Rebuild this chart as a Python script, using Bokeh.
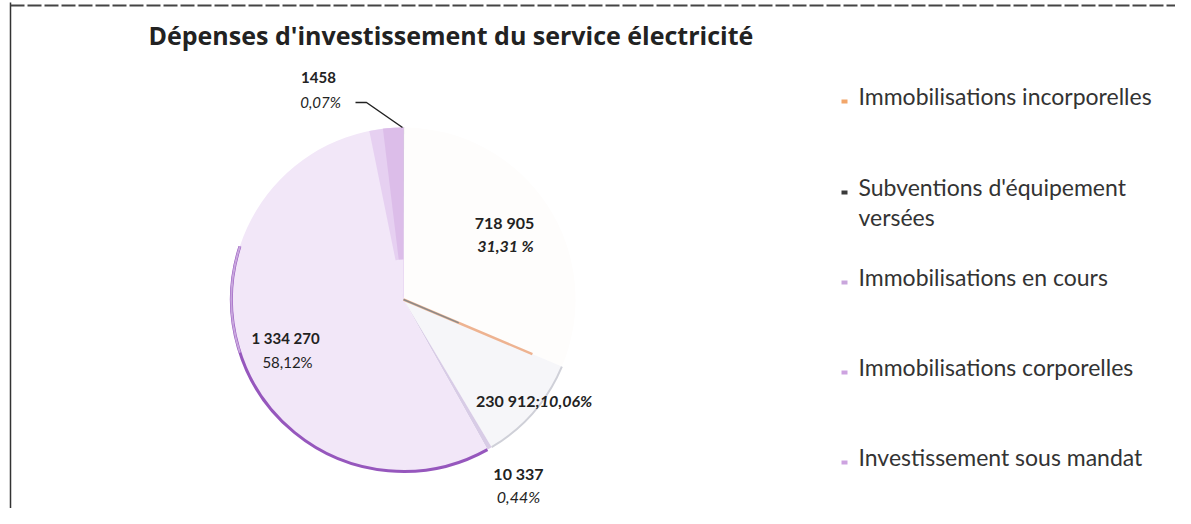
import math
from bokeh.plotting import figure
from bokeh.models import Range1d
from bokeh.core.properties import value
from bokeh.embed import file_html
from bokeh.resources import INLINE

# ---- data ----
categories = ["Immobilisations incorporelles", "Subventions d'équipement versées",
              "Immobilisations en cours", "Immobilisations corporelles",
              "Investissement sous mandat"]
values = [1458, 718905, 230912, 10337, 1334270]
value_labels = ["1458", "718 905", "230 912", "10 337", "1 334 270"]
pct_labels = ["0,07%", "31,31 %", "10,06%", "0,44%", "58,12%"]
slice_colors = ["#3a3a3a", "#fefdfc", "#f6f6f9", "#d8cce6", "#f2e7f8"]
legend_colors = ["#f2a66a", "#3a3a3a", "#c9a6dc", "#cda3e0", "#cda3e0"]

W, H = 1175, 508
FONT = "Lato"


def X(xi):
    return xi


def Y(yi):
    return H - yi


p = figure(width=W, height=H, output_backend="svg", toolbar_location=None,
           x_range=Range1d(0, W), y_range=Range1d(0, H), min_border=0)
p.axis.visible = False
p.grid.visible = False
p.outline_line_color = None
p.background_fill_color = "white"

# pie geometry
cx, cy, R = X(403), Y(299), 172
total = float(sum(values))
cum = [0.0]
for v in values:
    cum.append(cum[-1] + v / total)
starts = [math.pi / 2 - 2 * math.pi * cum[i + 1] for i in range(len(values))]
ends = [math.pi / 2 - 2 * math.pi * cum[i] for i in range(len(values))]

p.wedge(x=[cx] * len(values), y=[cy] * len(values), radius=R,
        start_angle=starts, end_angle=ends, fill_color=slice_colors,
        line_color=None)

# lilac strip along the top edge of the big slice
top = starts[4] + 2 * math.pi
p.wedge(x=cx, y=cy, radius=R, start_angle=top, end_angle=top + 0.2,
        fill_color="#e6d0f1", line_color=None)
p.wedge(x=cx, y=cy, radius=R, start_angle=top, end_angle=top + 0.12,
        fill_color="#dcbde9", line_color=None)
p.wedge(x=cx, y=cy, radius=40, start_angle=top, end_angle=top + 0.25,
        fill_color="#f2e7f8", line_color=None)

# purple rim of big slice
p.arc(x=cx, y=cy, radius=R, start_angle=math.pi / 2 - 2 * math.pi * 0.80,
      end_angle=starts[3], line_color="#9657bd", line_width=3)
p.arc(x=cx, y=cy, radius=R, start_angle=math.pi / 2 - 2 * math.pi * 0.80,
      end_angle=math.pi / 2 - 2 * math.pi * 0.70, line_color="#c8a6de", line_width=2)
# grey rim of 10,06% slice
p.arc(x=cx, y=cy, radius=R, start_angle=starts[2], end_angle=ends[2],
      line_color="#cfd0d8", line_width=2)

# orange boundary line
p.ray(x=cx, y=cy, length=140, angle=ends[2], line_color="#eeb391", line_width=2.5)
p.ray(x=cx, y=cy, length=60, angle=ends[2], line_color="#8a8a8a", line_width=1.5)

# leader line for 1458
p.line(x=[X(355), X(366), X(402)], y=[Y(102), Y(102), Y(127)],
       line_color="#222222", line_width=1.5)


# ---- labels ----
def txt(x, y, s, size="16px", style="bold", align="center", color="#222222", font=FONT):
    p.text(x=[X(x)], y=[Y(y)], text=[s], text_font=value(font),
           text_font_size=value(size), text_font_style=style,
           text_align=align, text_baseline="middle", text_color=color)


txt(318, 77, value_labels[0], size="15px")
txt(320, 101, pct_labels[0], style="italic", size="15px")
txt(504, 222, value_labels[1])
txt(505, 245, pct_labels[1], style="bold italic")
txt(535, 400, value_labels[2], align="right")
txt(535, 400, ";" + pct_labels[2], style="bold italic", align="left")
txt(518, 473, value_labels[3])
txt(518, 496, pct_labels[3], style="italic")
txt(285, 337, value_labels[4], size="15px")
txt(287, 361, pct_labels[4], style="normal", size="15px")

# title
txt(148, 34, "Dépenses d'investissement du service électricité", size="25px",
    align="left", font="Open Sans")

# legend
leg_y = [95, 186, 276, 366, 456]
for i, cat in enumerate(categories):
    p.rect(x=[X(844)], y=[Y(leg_y[i] + 6)], width=6, height=4,
           fill_color=legend_colors[i], line_color=None)
    if i == 1:
        txt(858, leg_y[i], "Subventions d'équipement", size="23px", style="normal",
            align="left", color="#333333")
        txt(858, leg_y[i] + 30, "versées", size="23px", style="normal",
            align="left", color="#333333")
    else:
        txt(858, leg_y[i], cat, size="23px", style="normal", align="left",
            color="#333333")

# scan border lines
p.line(x=[X(10), X(10)], y=[Y(2), Y(H)], line_color="#333333", line_width=1.5)
p.line(x=[X(10), X(1175)], y=[Y(5), Y(5)], line_color="#444444", line_width=2,
       line_dash="14 3")

open("out.html", "w").write(file_html(p, INLINE))
